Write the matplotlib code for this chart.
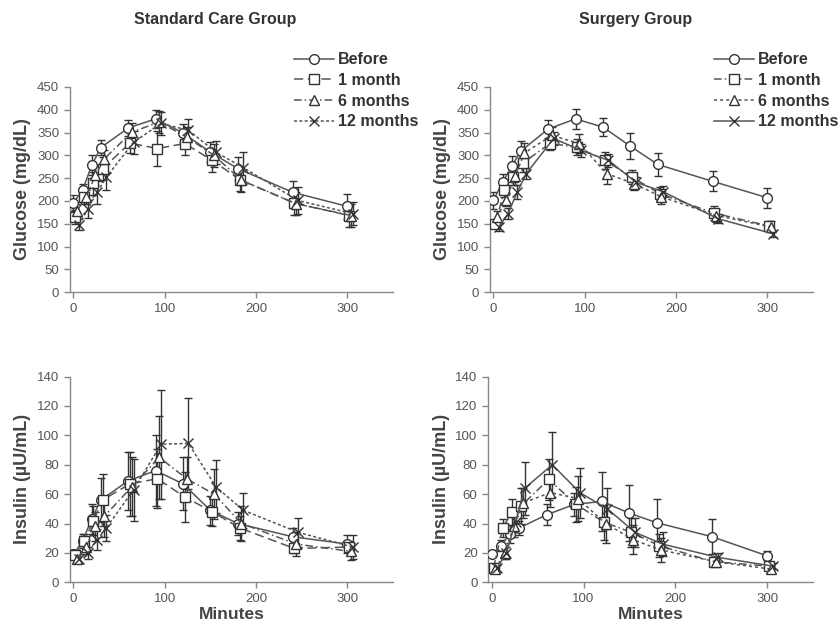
import matplotlib
matplotlib.use("Agg")
import matplotlib.pyplot as plt
import numpy as np

plt.rcParams['font.family'] = ['Liberation Sans', 'DejaVu Sans']

minutes = [0, 10, 20, 30, 60, 90, 120, 150, 180, 240, 300]
series_names = ["Before", "1 month", "6 months", "12 months"]

# Glucose (mg/dL) - Standard Care Group
glu_std_before = [196, 223, 278, 317, 360, 380, 349, 307, 271, 219, 188]
glu_std_1m = [165, 208, 239, 271, 327, 315, 326, 289, 247, 195, 168]
glu_std_6m = [179, 208, 256, 293, 351, 373, 340, 300, 245, 194, 168]
glu_std_12m = [148, 183, 219, 252, 329, 370, 355, 307, 273, 201, 172]
glu_std_before_err = [17, 15, 22, 16, 17, 20, 20, 22, 25, 25, 27]
glu_std_1m_err = [15, 15, 25, 25, 22, 38, 25, 25, 25, 25, 25]
glu_std_6m_err = [15, 15, 22, 18, 20, 25, 22, 25, 25, 25, 25]
glu_std_12m_err = [12, 20, 25, 28, 25, 25, 25, 25, 35, 30, 25]

# Glucose (mg/dL) - Surgery Group
glu_sur_before = [201, 241, 276, 309, 358, 380, 362, 320, 280, 243, 207]
glu_sur_1m = [149, 223, 252, 283, 326, 318, 289, 252, 216, 173, 145]
glu_sur_6m = [165, 203, 255, 305, 344, 326, 260, 238, 209, 168, 143]
glu_sur_12m = [143, 172, 219, 260, 337, 311, 289, 241, 220, 161, 128]
glu_sur_before_err = [18, 18, 22, 22, 20, 22, 20, 28, 25, 22, 22]
glu_sur_1m_err = [8, 15, 18, 20, 15, 18, 18, 15, 15, 15, 12]
glu_sur_6m_err = [12, 15, 20, 22, 18, 20, 22, 15, 15, 15, 12]
glu_sur_12m_err = [8, 12, 15, 12, 15, 15, 15, 12, 12, 10, 8]

# Insulin (uU/mL) - Standard Care Group
ins_std_before = [19, 28, 43, 56, 69, 76, 67, 49, 40, 31, 26]
ins_std_1m = [18.5, 28, 42, 56, 67, 70.5, 58, 48, 37, 23, 24]
ins_std_6m = [16, 24, 38, 45, 65, 85, 70.5, 60, 40, 26, 21]
ins_std_12m = [16, 20, 29, 37, 63, 94, 94.5, 65, 49, 34, 24]
ins_std_before_err = [3, 5, 10, 15, 20, 24, 18, 10, 8, 6, 6]
ins_std_1m_err = [3, 5, 10, 18, 22, 20, 17, 10, 8, 3, 4]
ins_std_6m_err = [3, 5, 10, 14, 20, 28, 15, 17, 12, 8, 6]
ins_std_12m_err = [3, 4, 7, 9, 21, 37, 31, 18, 12, 10, 8]

# Insulin (uU/mL) - Surgery Group
ins_sur_before = [19, 25, 33, 37, 46, 53, 55, 47, 40.5, 31, 18]
ins_sur_1m = [10, 37, 48, 52, 70, 53, 41, 34, 25, 14, 11]
ins_sur_6m = [9, 20, 38, 54, 61, 57, 40, 29, 22, 14, 9]
ins_sur_12m = [10, 20, 41, 64, 80, 61, 50, 34, 26, 17, 11]
ins_sur_before_err = [2, 4, 6, 5, 7, 8, 20, 19, 16, 12, 3]
ins_sur_1m_err = [2, 6, 9, 12, 14, 12, 12, 10, 8, 2, 2]
ins_sur_6m_err = [2, 4, 7, 10, 10, 15, 13, 10, 8, 3, 2]
ins_sur_12m_err = [2, 4, 7, 18, 22, 17, 14, 10, 8, 3, 2]

panels = [
    dict(pos=[0.083, 0.540, 0.385, 0.323], ylim=(0, 450), yticks=np.arange(0, 451, 50),
         ylabel="Glucose (mg/dL)", xlabel=None,
         data=[glu_std_before, glu_std_1m, glu_std_6m, glu_std_12m],
         err=[glu_std_before_err, glu_std_1m_err, glu_std_6m_err, glu_std_12m_err],
         group="std"),
    dict(pos=[0.583, 0.540, 0.385, 0.323], ylim=(0, 450), yticks=np.arange(0, 451, 50),
         ylabel="Glucose (mg/dL)", xlabel=None,
         data=[glu_sur_before, glu_sur_1m, glu_sur_6m, glu_sur_12m],
         err=[glu_sur_before_err, glu_sur_1m_err, glu_sur_6m_err, glu_sur_12m_err],
         group="sur"),
    dict(pos=[0.083, 0.083, 0.385, 0.324], ylim=(0, 140), yticks=np.arange(0, 141, 20),
         ylabel="Insulin (\u00b5U/mL)", xlabel="Minutes",
         data=[ins_std_before, ins_std_1m, ins_std_6m, ins_std_12m],
         err=[ins_std_before_err, ins_std_1m_err, ins_std_6m_err, ins_std_12m_err],
         group="std"),
    dict(pos=[0.581, 0.083, 0.387, 0.324], ylim=(0, 140), yticks=np.arange(0, 141, 20),
         ylabel="Insulin (\u00b5U/mL)", xlabel="Minutes",
         data=[ins_sur_before, ins_sur_1m, ins_sur_6m, ins_sur_12m],
         err=[ins_sur_before_err, ins_sur_1m_err, ins_sur_6m_err, ins_sur_12m_err],
         group="sur"),
]

markers = ['o', 's', '^', 'x']
styles_std = ['-', (0, (6, 3)), (0, (5, 2, 1, 2)), (0, (2, 1.5))]
styles_sur = ['-', (0, (5, 2, 1, 2)), (0, (2, 2)), '-']
offsets = [0, 2, 4, 6]
line_col = '#555555'
edge_col = '#333333'
grey = '#888888'
txt = '#555555'

fig = plt.figure(figsize=(8.4, 6.35), dpi=100)
handles = {}
for p in panels:
    ax = fig.add_axes(p['pos'])
    styles = styles_std if p['group'] == 'std' else styles_sur
    hs = []
    for i in range(4):
        x = np.array(minutes) + offsets[i]
        ax.errorbar(x, p['data'][i], yerr=p['err'][i], fmt='none', ecolor='#333333',
                    elinewidth=1.0, capsize=3, capthick=1.0, zorder=2)
        h, = ax.plot(x, p['data'][i], linestyle=styles[i], color=line_col, lw=1.1,
                     marker=markers[i], markersize=7,
                     markerfacecolor='white', markeredgecolor=edge_col,
                     markeredgewidth=1.0, zorder=3 + i * 0.1)
        hs.append(h)
    handles[p['group']] = hs
    ax.set_xlim(-4, 350)
    ax.set_ylim(*p['ylim'])
    ax.set_xticks([0, 100, 200, 300])
    ax.set_yticks(p['yticks'])
    for s in ['top', 'right']:
        ax.spines[s].set_visible(False)
    for s in ['left', 'bottom']:
        ax.spines[s].set_color(grey)
        ax.spines[s].set_linewidth(1.0)
    ax.tick_params(axis='both', colors=grey, labelcolor=txt, labelsize=9.5,
                   length=4, width=1.0, direction='out')
    ax.set_ylabel(p['ylabel'], fontsize=13, fontweight='bold', color='#444444', labelpad=4)
    if p['xlabel']:
        ax.set_xlabel(p['xlabel'], fontsize=12.5, fontweight='bold', color='#444444', labelpad=2)

fig.text(0.256, 0.970, "Standard Care Group", ha='center', va='center',
         fontsize=11.5, fontweight='bold', color='#333333')
fig.text(0.757, 0.970, "Surgery Group", ha='center', va='center',
         fontsize=11.5, fontweight='bold', color='#333333')

leg_kw = dict(frameon=False, handlelength=2.5, handletextpad=0.25,
              labelspacing=0.36, borderaxespad=0, prop=dict(weight='bold', size=11.5))
leg1 = fig.legend(handles['std'], series_names, loc='upper left',
                  bbox_to_anchor=(0.342, 0.928), **leg_kw)
leg2 = fig.legend(handles['sur'], series_names, loc='upper left',
                  bbox_to_anchor=(0.842, 0.928), **leg_kw)
for leg in (leg1, leg2):
    for t in leg.get_texts():
        t.set_color('#333333')

fig.savefig("out.png", dpi=100)
